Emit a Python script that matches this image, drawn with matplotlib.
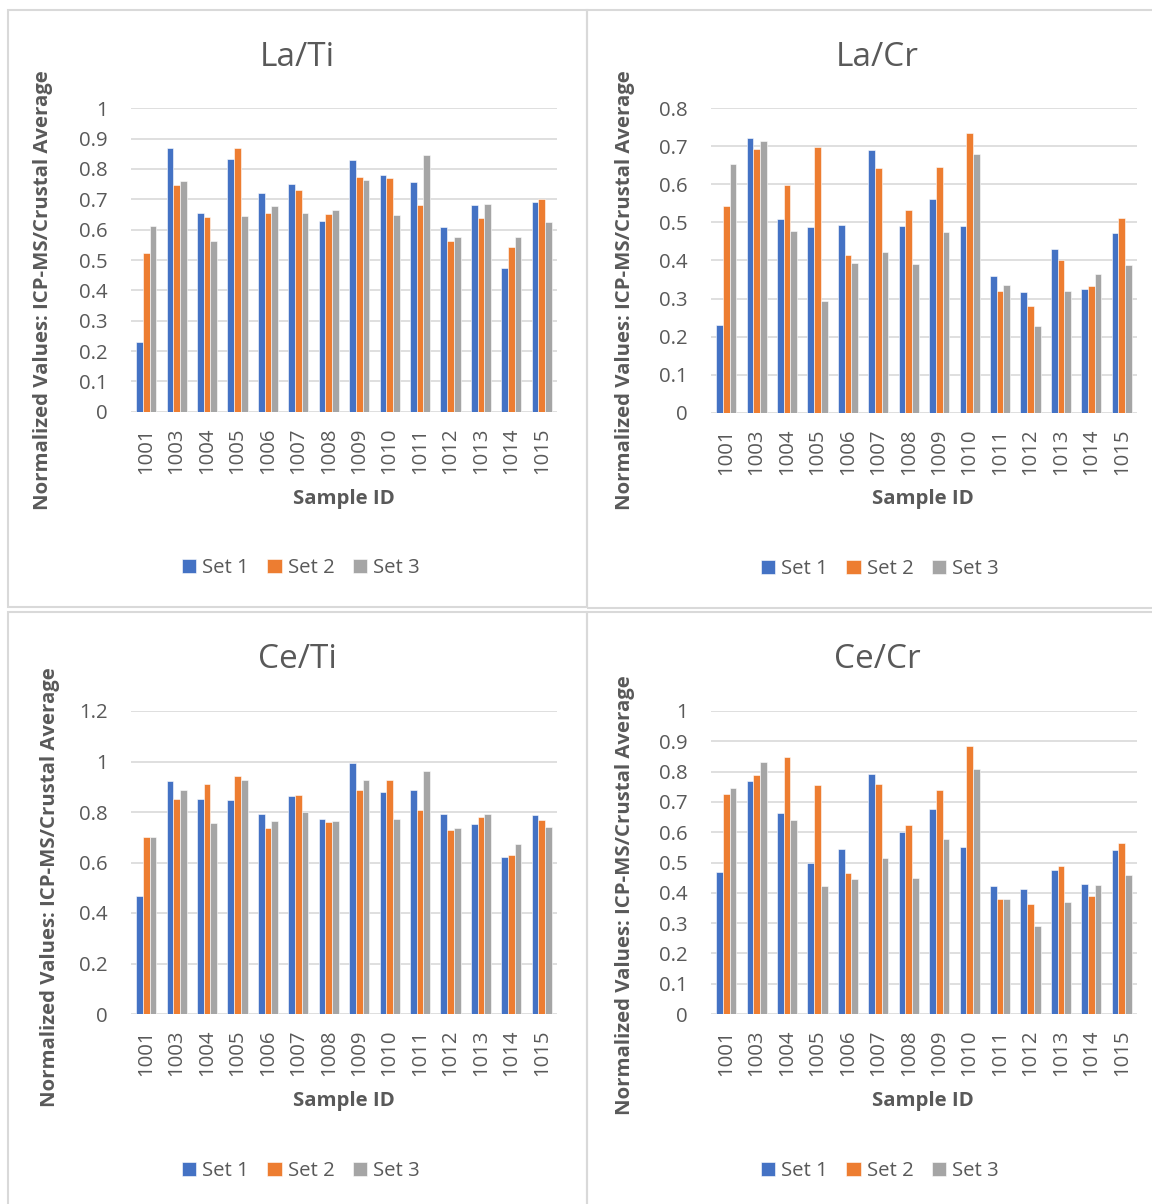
import matplotlib
matplotlib.use("Agg")
import matplotlib.pyplot as plt
from matplotlib.patches import Rectangle
import numpy as np

# Sample identifiers shared by all four panels
samples = ["1001", "1003", "1004", "1005", "1006", "1007", "1008",
           "1009", "1010", "1011", "1012", "1013", "1014", "1015"]
set_names = ["Set 1", "Set 2", "Set 3"]

# La/Ti normalized values
la_ti_set1 = [0.230, 0.868, 0.654, 0.833, 0.720, 0.752, 0.630, 0.829, 0.781, 0.758, 0.610, 0.680, 0.474, 0.690]
la_ti_set2 = [0.524, 0.747, 0.642, 0.870, 0.654, 0.732, 0.651, 0.773, 0.770, 0.680, 0.564, 0.640, 0.543, 0.700]
la_ti_set3 = [0.613, 0.762, 0.563, 0.644, 0.679, 0.656, 0.666, 0.763, 0.649, 0.845, 0.577, 0.685, 0.575, 0.625]

# La/Cr normalized values
la_cr_set1 = [0.230, 0.722, 0.510, 0.488, 0.494, 0.691, 0.490, 0.562, 0.490, 0.359, 0.316, 0.429, 0.326, 0.473]
la_cr_set2 = [0.544, 0.692, 0.599, 0.699, 0.414, 0.642, 0.532, 0.645, 0.734, 0.321, 0.280, 0.401, 0.333, 0.512]
la_cr_set3 = [0.653, 0.713, 0.477, 0.294, 0.394, 0.422, 0.390, 0.474, 0.681, 0.335, 0.227, 0.319, 0.365, 0.388]

# Ce/Ti normalized values
ce_ti_set1 = [0.466, 0.923, 0.850, 0.846, 0.792, 0.862, 0.772, 0.995, 0.879, 0.887, 0.792, 0.754, 0.623, 0.788]
ce_ti_set2 = [0.700, 0.850, 0.910, 0.941, 0.735, 0.866, 0.760, 0.887, 0.927, 0.807, 0.727, 0.782, 0.631, 0.768]
ce_ti_set3 = [0.702, 0.886, 0.755, 0.927, 0.766, 0.799, 0.766, 0.925, 0.774, 0.961, 0.735, 0.792, 0.673, 0.739]

# Ce/Cr normalized values
ce_cr_set1 = [0.470, 0.768, 0.663, 0.497, 0.543, 0.792, 0.601, 0.675, 0.551, 0.421, 0.413, 0.476, 0.429, 0.542]
ce_cr_set2 = [0.726, 0.788, 0.849, 0.757, 0.464, 0.759, 0.623, 0.740, 0.884, 0.381, 0.362, 0.490, 0.388, 0.563]
ce_cr_set3 = [0.747, 0.831, 0.639, 0.422, 0.444, 0.514, 0.448, 0.576, 0.810, 0.381, 0.289, 0.371, 0.427, 0.460]

titles = ["La/Ti", "La/Cr", "Ce/Ti", "Ce/Cr"]
y_ticks = [np.round(np.arange(0, 1.01, 0.1), 1),
           np.round(np.arange(0, 0.81, 0.1), 1),
           np.round(np.arange(0, 1.21, 0.2), 1),
           np.round(np.arange(0, 1.01, 0.1), 1)]
panel_data = [(la_ti_set1, la_ti_set2, la_ti_set3),
              (la_cr_set1, la_cr_set2, la_cr_set3),
              (ce_ti_set1, ce_ti_set2, ce_ti_set3),
              (ce_cr_set1, ce_cr_set2, ce_cr_set3)]

colors = ["#4472C4", "#ED7D31", "#A5A5A5"]
text_color = "#595959"
grid_color = "#D9D9D9"
FONT = "Open Sans"
FS = 14.7

W, H = 1152, 1204
fig = plt.figure(figsize=(W / 100, H / 100), dpi=100)
fig.patch.set_facecolor("white")


def fx(x):
    return x / W


def fy(y):
    return 1 - y / H


# Panel frames (pixel boxes: left, top, right, bottom)
frames = [(8, 10, 587, 607), (587, 10, 1162, 608),
          (8, 612, 587, 1214), (587, 612, 1162, 1214)]
for l, t, r, b in frames:
    fig.patches.append(Rectangle((fx(l), fy(b)), fx(r - l), (b - t) / H,
                                 transform=fig.transFigure, fill=False,
                                 edgecolor=grid_color, linewidth=1.5, zorder=0))

# Plot areas in pixels: left, top, right, bottom
plot_boxes = [(131, 108.3, 557, 411.7), (711, 108.3, 1137, 412.7),
              (131, 711, 557, 1014), (711, 711, 1137, 1014)]
title_pos = [(297, 57), (877, 57), (297, 660), (877, 660)]
xlabel_pos = [(344, 499), (923, 499), (344, 1101), (923, 1101)]
legend_pos = [(301, 568), (880, 569), (301, 1171), (880, 1171)]
ylabel_pos = [(43, 290), (625, 290), (50, 887), (625, 895)]

x = np.arange(len(samples))
bw = 0.22

for i in range(4):
    l, t, r, b = plot_boxes[i]
    ax = fig.add_axes([fx(l), fy(b), fx(r - l), (b - t) / H])
    ticks = y_ticks[i]
    ymax = ticks[-1]
    handles = []
    for k, (vals, c) in enumerate(zip(panel_data[i], colors)):
        h = ax.bar(x + (k - 1) * bw, vals, width=bw, color=c,
                   edgecolor="white", linewidth=0.4, zorder=3, label=set_names[k])
        handles.append(h)
    ax.set_xlim(-0.5, len(samples) - 0.5)
    ax.set_ylim(0, ymax)
    ax.set_yticks(ticks)
    ax.set_yticklabels([f"{v:g}" for v in ticks], fontsize=FS,
                       color=text_color, family=FONT)
    ax.set_xticks(x)
    ax.set_xticklabels(samples, rotation=90, fontsize=FS,
                       color=text_color, family=FONT)
    ax.tick_params(axis="both", length=0)
    ax.tick_params(axis="y", pad=16.5)
    ax.tick_params(axis="x", pad=11.5)
    for s in ax.spines.values():
        s.set_visible(False)
    for v in ticks:
        ax.axhline(v, color=grid_color, linewidth=1.2, zorder=1)
    ax.set_facecolor("none")

    tx, ty = title_pos[i]
    fig.text(fx(tx), fy(ty), titles[i], ha="center", va="center",
             fontsize=24, color=text_color, family=FONT)
    sx, sy = xlabel_pos[i]
    fig.text(fx(sx), fy(sy), "Sample ID", ha="center", va="center",
             fontsize=FS, fontweight="bold", color=text_color, family=FONT)
    yx, yy = ylabel_pos[i]
    fig.text(fx(yx), fy(yy), "Normalized Values: ICP-MS/Crustal Average",
             ha="center", va="center", rotation=90, fontsize=FS,
             fontweight="bold", color=text_color, family=FONT)
    lx, ly = legend_pos[i]
    fig.legend(handles=handles, labels=set_names, loc="center",
               bbox_to_anchor=(fx(lx), fy(ly)), ncol=3, frameon=False,
               prop={"family": FONT, "size": FS}, labelcolor=text_color,
               handlelength=0.7, handleheight=0.7, handletextpad=0.3,
               columnspacing=0.9)

fig.savefig("out.png", dpi=100, facecolor="white")
